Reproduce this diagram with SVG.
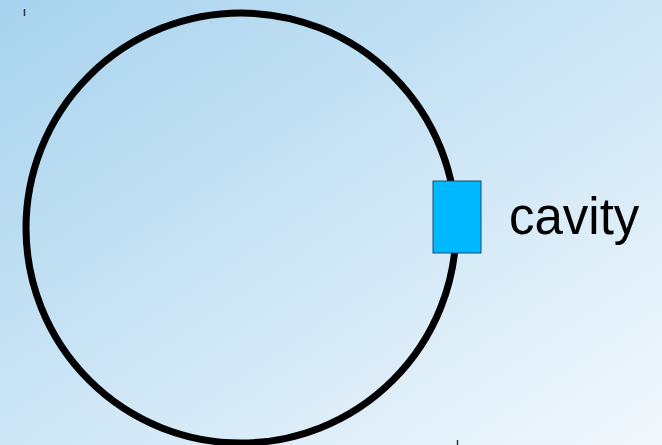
<svg xmlns="http://www.w3.org/2000/svg" width="662" height="445" viewBox="0 0 662 445">
<defs>
<linearGradient id="bg" x1="0" y1="0" x2="1" y2="1">
<stop offset="0" stop-color="#a7d3ee"/>
<stop offset="1" stop-color="#f2f8fd"/>
</linearGradient>
<style>
.ring{fill:none;stroke:#000;stroke-width:7}
.cav{fill:#00b8ff;stroke:#1a4a6a;stroke-width:1}
.lbl{font-family:"Liberation Sans",Arial,sans-serif;font-size:51px;fill:#000}
.tick{stroke:#334;stroke-width:1.5}
</style>
</defs>
<rect width="662" height="445" fill="url(#bg)"/>
<line class="tick" x1="24.5" y1="9" x2="24.5" y2="16"/>
<line class="tick" x1="457.5" y1="440" x2="457.5" y2="445"/>
<g id="ring"><circle class="ring" cx="241" cy="228" r="215"/></g>
<g id="cavity">
<rect class="cav" x="433" y="181" width="48" height="72"/>
<text class="lbl" x="509" y="234">cavity</text>
</g>
<g id="connectors"/>
</svg>
